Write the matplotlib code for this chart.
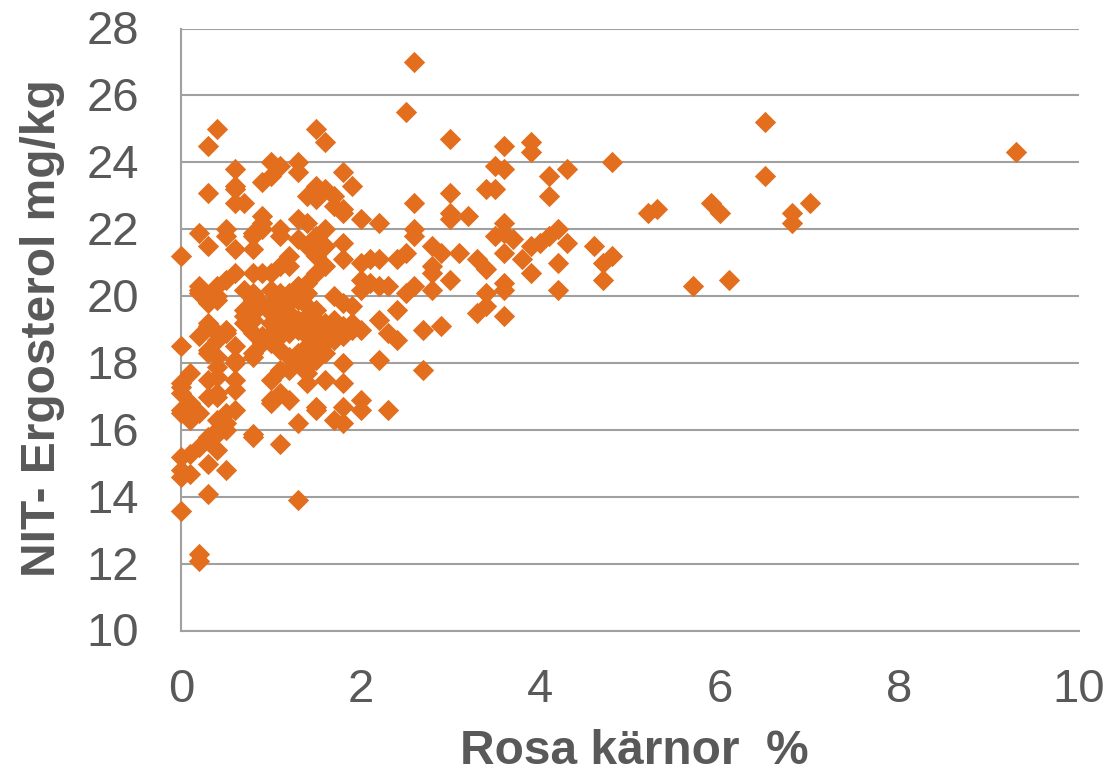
import matplotlib.pyplot as plt
from matplotlib.transforms import ScaledTranslation

# grouped by x value
rosa = []
ergo = []
cols = [
    (0.0, [21.2, 18.5, 17.4, 17.3, 17.1, 16.6, 16.5, 15.2, 14.8, 14.6, 13.6]),
    (0.1, [17.7, 16.8, 16.7, 16.5, 16.4, 16.3, 15.3, 14.7]),
    (0.2, [21.9, 20.3, 20.2, 20.1, 18.8, 16.5, 15.5, 12.3, 12.1]),
    (0.3, [24.5, 23.1, 21.5, 20.0, 19.9, 19.8, 19.2, 19.1, 18.4, 18.3, 17.5, 17.0, 15.8, 15.7, 15.0, 14.1]),
    (0.4, [25.0, 20.3, 20.0, 19.9, 18.9, 18.7, 18.2, 17.9, 17.6, 17.1, 17.0, 16.3, 16.0, 15.9, 15.4]),
    (0.5, [22.0, 21.8, 20.5, 19.0, 18.9, 16.5, 16.2, 16.0, 14.8]),
    (0.6, [23.8, 23.3, 23.2, 22.8, 21.4, 20.7, 18.5, 18.1, 18.0, 17.5, 17.2, 16.6]),
    (0.7, [22.8, 20.2, 19.6, 19.4, 19.2]),
    (0.8, [21.9, 21.8, 21.4, 20.7, 20.1, 19.9, 19.5, 19.3, 18.9, 18.3, 18.2, 15.9, 15.8]),
    (0.9, [23.4, 22.4, 22.2, 22.0, 20.7, 19.8, 18.8, 18.6]),
    (1.0, [24.0, 23.6, 20.7, 20.2, 19.8, 19.5, 19.2, 18.9, 18.6, 17.5, 16.9, 16.8]),
    (1.1, [23.9, 22.0, 21.8, 20.9, 20.1, 19.7, 19.4, 19.1, 18.8, 18.4, 17.8, 17.1, 15.6]),
    (1.2, [21.2, 20.9, 20.1, 19.8, 19.5, 19.2, 18.9, 18.2, 17.8, 16.9]),
    (1.3, [24.0, 23.7, 22.3, 21.7, 20.3, 19.9, 19.3, 19.0, 18.3, 18.0, 16.2, 13.9]),
    (1.4, [23.0, 22.2, 21.5, 20.4, 20.1, 19.7, 19.4, 19.1, 18.8, 18.5, 18.2, 17.9, 17.7, 17.4]),
    (1.5, [25.0, 23.3, 22.9, 21.8, 21.2, 20.7, 19.6, 19.3, 19.0, 18.7, 18.4, 18.1, 16.7, 16.6]),
    (1.6, [24.6, 23.2, 22.0, 21.5, 20.9, 19.2, 18.9, 18.6, 18.3, 17.5]),
    (1.7, [23.0, 22.7, 20.0, 19.3, 19.0, 18.7, 16.3]),
    (1.8, [23.7, 22.6, 22.5, 21.6, 21.1, 19.8, 19.1, 18.8, 18.0, 17.4, 16.7, 16.2]),
    (1.9, [23.3, 19.7, 19.2, 19.0]),
    (2.0, [22.3, 21.0, 20.5, 20.2, 19.0, 16.9, 16.6]),
    (2.1, [21.1, 20.4]),
    (2.2, [22.2, 21.1, 20.3, 19.3, 18.1]),
    (2.3, [20.3, 18.9, 16.6]),
    (2.4, [21.1, 19.6, 18.7]),
    (2.5, [25.5, 21.3, 20.1]),
    (2.6, [27.0, 22.8, 22.0, 21.8, 20.3]),
    (2.7, [19.0, 17.8]),
    (2.8, [21.5, 20.9, 20.7, 20.2]),
    (2.9, [21.3, 19.1]),
    (3.0, [24.7, 23.1, 22.5, 22.3, 20.5]),
    (3.1, [21.3]),
    (3.2, [22.4]),
    (3.3, [21.1, 19.5]),
    (3.4, [23.2, 20.8, 20.1, 19.7]),
    (3.5, [23.9, 23.2, 21.8]),
    (3.6, [24.5, 23.8, 22.2, 21.9, 21.3, 20.4, 20.2, 19.4]),
    (3.7, [21.7]),
    (3.8, [21.1]),
    (3.9, [24.6, 24.3, 21.5, 20.7]),
    (4.0, [21.6]),
    (4.1, [23.6, 23.0, 21.8]),
    (4.2, [22.0, 21.0, 20.2]),
    (4.3, [23.8, 21.6]),
    (4.6, [21.5]),
    (4.7, [21.0, 20.5]),
    (4.8, [24.0, 21.2]),
    (5.2, [22.5]),
    (5.3, [22.6]),
    (5.7, [20.3]),
    (5.9, [22.8]),
    (6.0, [22.5]),
    (6.1, [20.5]),
    (6.5, [25.2, 23.6]),
    (6.8, [22.5, 22.2]),
    (7.0, [22.8]),
    (9.3, [24.3]),
]
for xv, ylist in cols:
    for yv in ylist:
        rosa.append(xv)
        ergo.append(yv)

xticks = [0, 2, 4, 6, 8, 10]
yticks = [10, 12, 14, 16, 18, 20, 22, 24, 26, 28]

W, H = 1110, 773
plt.rcParams['font.family'] = ['Liberation Sans', 'DejaVu Sans']
fig = plt.figure(figsize=(W / 100, H / 100), dpi=100)
ax = fig.add_axes([181 / W, 1 - 631 / H, (1079 - 181) / W, (631 - 28.5) / H])

ax.scatter(rosa, ergo, marker='D', s=118, color='#E36F1E', linewidths=0, zorder=3, clip_on=False)

ax.set_xlim(0, 10)
ax.set_ylim(10, 28)
ax.set_xticks(xticks)
ax.set_yticks(yticks)
ax.grid(axis='y', color='#a0a0a0', lw=1.5, zorder=1)
ax.tick_params(length=0, labelsize=34, labelcolor='#595959')
ax.tick_params(axis='x', pad=27)
ax.tick_params(axis='y', pad=30)
# y labels sit a little higher than matplotlib centres them
for lab in ax.get_yticklabels():
    lab.set_transform(lab.get_transform() + ScaledTranslation(0, 1.5 / 100, fig.dpi_scale_trans))
for s in ['top', 'right']:
    ax.spines[s].set_visible(False)
for s in ['left', 'bottom']:
    ax.spines[s].set_color('#a0a0a0')
    ax.spines[s].set_linewidth(1.5)

fig.text(634 / W, 1 - 751 / H, 'Rosa kärnor  %', fontsize=34.5, fontweight='bold', color='#595959',
         ha='center', va='center')
fig.text(43 / W, 1 - 328 / H, 'NIT- Ergosterol mg/kg', fontsize=34.5, fontweight='bold', color='#595959',
         ha='center', va='center', rotation=90)

fig.savefig('out.png', dpi=100)
